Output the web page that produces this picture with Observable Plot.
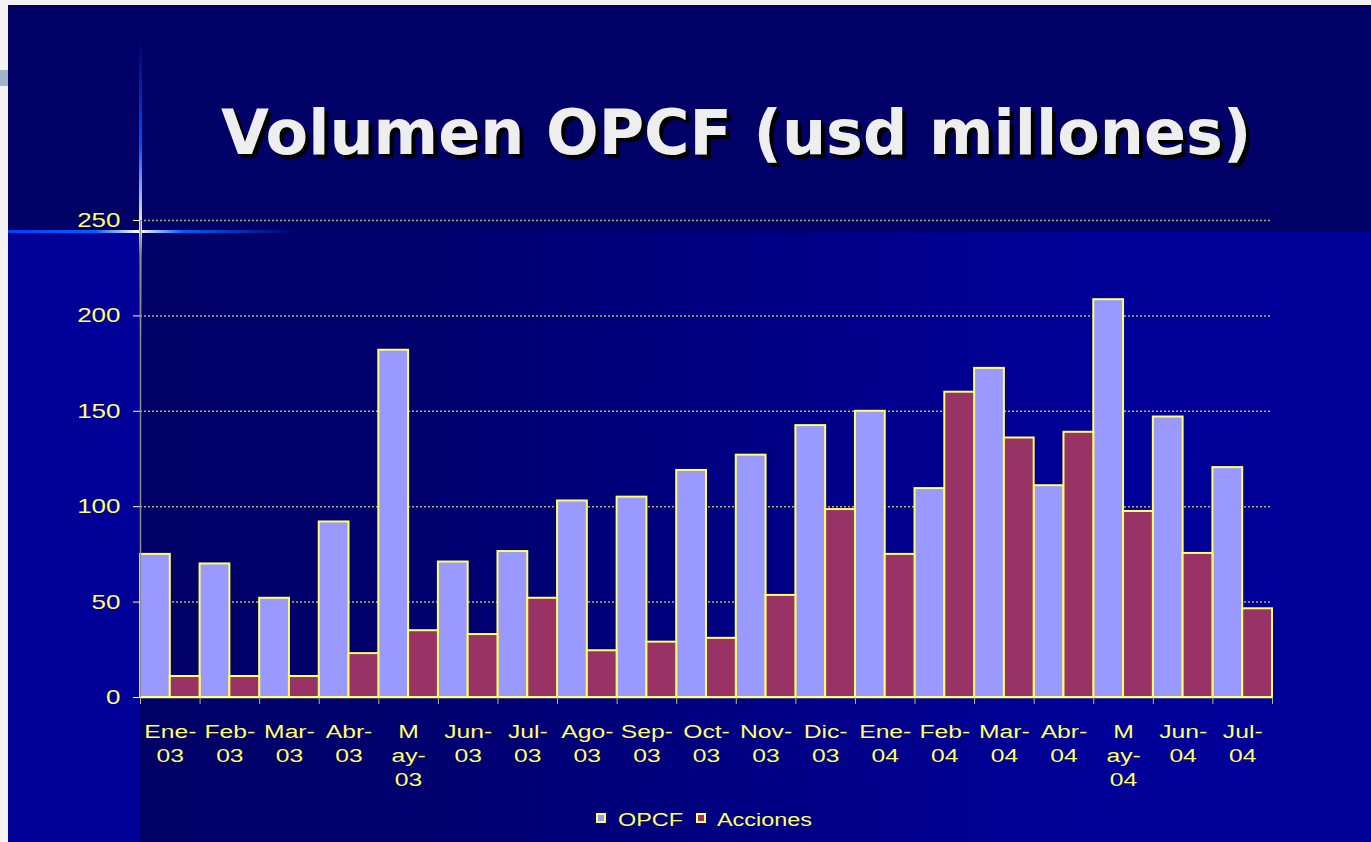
<!DOCTYPE html>
<html>
<head>
<meta charset="utf-8">
<script src="https://cdn.jsdelivr.net/npm/d3@7"></script>
<script src="https://cdn.jsdelivr.net/npm/@observablehq/plot@0.6"></script>
<style>
  html, body { margin: 0; padding: 0; }
  body { width: 1371px; height: 842px; background: #f3f3f3; position: relative; overflow: hidden; font-family: "Liberation Sans", Arial, sans-serif; }
  .abs { position: absolute; }
  #title { left: 221px; top: 102px; font-family: "DejaVu Sans", Verdana, sans-serif; font-weight: bold; font-size: 62px; line-height: 62px; color: #eeeeee; text-shadow: 4px 4px 0 #000000; white-space: nowrap; }
  .lg-sq { width: 6px; height: 6px; border: 2px solid #ffff66; }
  .lg-tx { font-size: 18px; line-height: 18px; color: #ffff66; transform: scaleX(1.3); transform-origin: left center; white-space: nowrap; }
  #chart { left: 0; top: 200px; }
</style>
</head>
<body>
<div class="abs" style="left:8px;top:5px;width:1363px;height:227px;background:#000066"></div>
<div class="abs" style="left:8px;top:232px;width:132px;height:610px;background:#000099"></div>
<div class="abs" style="left:140px;top:232px;width:1231px;height:610px;background:linear-gradient(to right,#000066 0%,#000070 25%,#000088 55%,#000099 80%,#000099 100%)"></div>
<div class="abs" style="left:0;top:70px;width:8px;height:16px;background:#a2b4c8"></div>
<div class="abs" style="left:139px;top:40px;width:3px;height:300px;background:linear-gradient(to bottom,rgba(0,60,255,0) 0%,#0050ff 35%,#ffffff 64%,#0050ff 72%,rgba(0,60,255,0) 100%)"></div>
<div class="abs" style="left:8px;top:230px;width:290px;height:3px;background:linear-gradient(to right,#0040ff 0%,#0060ff 30%,#ffffff 45%,#0060ff 60%,rgba(0,60,255,0) 100%)"></div>
<div id="title" class="abs">Volumen OPCF (usd millones)</div>
<div id="chart" class="abs"></div>
<div class="abs lg-sq" style="left:596px;top:813px;background:#9999ff"></div>
<div class="abs lg-tx" style="left:618px;top:811px">OPCF</div>
<div class="abs lg-sq" style="left:696px;top:813px;background:#993366"></div>
<div class="abs lg-tx" style="left:717px;top:811px">Acciones</div>
<script>
const months = ["Ene-\n03","Feb-\n03","Mar-\n03","Abr-\n03","M\nay-\n03","Jun-\n03","Jul-\n03","Ago-\n03","Sep-\n03","Oct-\n03","Nov-\n03","Dic-\n03","Ene-\n04","Feb-\n04","Mar-\n04","Abr-\n04","M\nay-\n04","Jun-\n04","Jul-\n04"];
const opcf = [75, 70, 52, 92, 182, 71, 76.5, 103, 105, 119, 127, 142.5, 150, 109.5, 172.5, 111, 208.5, 147, 120.5];
const acciones = [11, 11, 11, 23, 35, 33, 52, 24.5, 29, 31, 53.5, 98.5, 75, 160, 136, 139, 97.5, 75.5, 46.5];
const yTicks = [0, 50, 100, 150, 200, 250];

const idx = d3.range(months.length);
const chart = Plot.plot({
  width: 1371,
  height: 600,
  marginLeft: 140,
  marginRight: 99,
  marginTop: 20,
  marginBottom: 103,
  style: { background: "transparent", fontFamily: "Liberation Sans, Arial, sans-serif" },
  x: { domain: [0, months.length] },
  y: { domain: [0, 250] },
  marks: [
    Plot.gridY(yTicks.filter(d => d > 0), { stroke: "#b4b070", strokeOpacity: 1, strokeDasharray: "2,2", strokeWidth: 1.5 }),
    Plot.rectY(idx, { x1: i => i, x2: i => i + 0.5, y1: 0, y2: i => opcf[i], fill: "#9999ff", stroke: "#ffff66", strokeWidth: 2 }),
    Plot.rectY(idx, { x1: i => i + 0.5, x2: i => i + 1, y1: 0, y2: i => acciones[i], fill: "#993366", stroke: "#ffff66", strokeWidth: 2 }),
    Plot.ruleX([0], { y1: 0, y2: 250, stroke: "#8c8c8c", strokeWidth: 1.5 }),
    Plot.ruleY([0], { stroke: "#ffffaa", strokeWidth: 1.5 }),
    Plot.axisY({ ticks: yTicks, tickSize: 7, tickPadding: 13, stroke: "#ffffaa", fill: "#ffff66", fontSize: 20, label: null }),
    Plot.axisX({ ticks: d3.range(months.length + 1), tickSize: 7, tickFormat: () => "", stroke: "#b8b890", label: null }),
    Plot.axisX({ ticks: idx.map(i => i + 0.5), tickSize: 0, tickPadding: 23, tickFormat: d => months[Math.floor(d)], fill: "#ffff66", fontSize: 19, lineHeight: 1.263, label: null })
  ]
});
document.getElementById("chart").appendChild(chart);

// horizontally stretch small texts to mimic the stretched slide
chart.querySelectorAll('g[aria-label$="tick label"] text').forEach(t => {
  const tr = t.getAttribute("transform");
  if (tr) {
    t.setAttribute("transform", tr + " scale(1.3,1)");
  } else {
    const x = +(t.getAttribute("x") || 0), y = +(t.getAttribute("y") || 0);
    t.removeAttribute("x"); t.removeAttribute("y");
    t.setAttribute("transform", `translate(${x},${y}) scale(1.3,1)`);
  }
});
</script>
</body>
</html>
